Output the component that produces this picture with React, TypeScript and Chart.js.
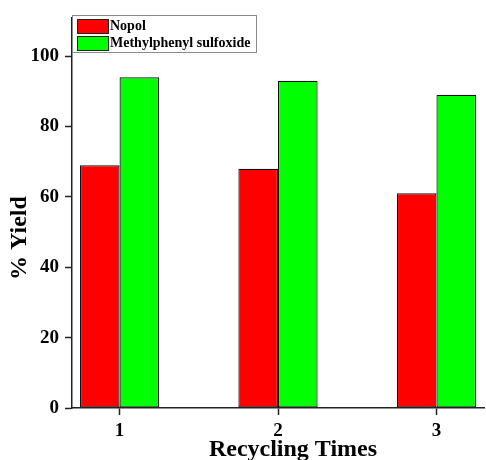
import React, { useEffect, useRef } from "react";
import { Chart, registerables } from "chart.js";

Chart.register(...registerables);

const cycles = [1, 2, 3];
const nopol = [69, 68, 61];
const sulfoxide = [94, 93, 89];
const seriesNames = ["Nopol", "Methylphenyl sulfoxide"];
const seriesColors = ["#ff0000", "#00ff00"];
const yTicks = [0, 20, 40, 60, 80, 100];
const xTitle = "Recycling Times";
const yTitle = "% Yield";

const FONT = "'Liberation Serif', 'Times New Roman', serif";

const titlesAndLegend = {
  id: "titlesAndLegend",
  afterDraw(chart: any) {
    const ctx = chart.ctx;
    const area = chart.chartArea;
    ctx.save();
    // legend box
    const lx = area.left;
    const ly = 15;
    const lw = 184;
    const lh = 37;
    ctx.fillStyle = "#ffffff";
    ctx.fillRect(lx, ly, lw, lh);
    ctx.strokeStyle = "#8a8a8a";
    ctx.lineWidth = 1;
    ctx.strokeRect(lx + 0.5, ly + 0.5, lw, lh);
    chart.data.datasets.forEach((ds: any, i: number) => {
      const y = ly + 3 + i * 17;
      ctx.fillStyle = ds.backgroundColor;
      ctx.fillRect(lx + 5, y + 1, 31, 14);
      ctx.strokeStyle = "#222";
      ctx.strokeRect(lx + 5.5, y + 1.5, 31, 14);
      ctx.fillStyle = "#000";
      ctx.font = `bold 14px ${FONT}`;
      ctx.textBaseline = "middle";
      ctx.textAlign = "left";
      ctx.fillText(ds.label, lx + 38, y + 8.5);
    });
    // axis titles
    ctx.fillStyle = "#000";
    ctx.font = `bold 24px ${FONT}`;
    ctx.textAlign = "center";
    ctx.textBaseline = "middle";
    ctx.fillText(xTitle, 293, 450);
    ctx.translate(20, 238);
    ctx.rotate(-Math.PI / 2);
    ctx.fillText(yTitle, 0, 0);
    ctx.restore();
  },
};

export default function App() {
  const ref = useRef<HTMLCanvasElement>(null);
  useEffect(() => {
    document.body.style.margin = "0";
    const chart = new Chart(ref.current as HTMLCanvasElement, {
      type: "bar",
      data: {
        datasets: [
          {
            label: seriesNames[0],
            data: cycles.map((c, i) => ({ x: c, y: nopol[i] })),
            backgroundColor: seriesColors[0],
            borderColor: "#111",
            borderWidth: 1.2,
            borderSkipped: false,
          },
          {
            label: seriesNames[1],
            data: cycles.map((c, i) => ({ x: c, y: sulfoxide[i] })),
            backgroundColor: seriesColors[1],
            borderColor: "#111",
            borderWidth: 1.2,
            borderSkipped: false,
          },
        ],
      },
      options: {
        animation: false,
        responsive: false,
        categoryPercentage: 0.5,
        barPercentage: 1,
        layout: { padding: { top: 16, right: 2, left: 0, bottom: 0 } },
        plugins: {
          legend: { display: false },
          tooltip: { enabled: false },
        },
        scales: {
          x: {
            type: "linear",
            min: 0.7,
            max: 3.3,
            offset: false,
            afterFit(scale: any) {
              scale.height = 52;
            },
            afterBuildTicks(scale: any) {
              scale.ticks = cycles.map((v) => ({ value: v }));
            },
            border: { color: "#222", width: 1.5, z: 1 },
            grid: {
              offset: false,
              drawOnChartArea: false,
              drawTicks: true,
              tickLength: 7,
              tickColor: "#222",
              tickWidth: 1.5,
              z: 1,
            },
            ticks: {
              color: "#000",
              font: { family: FONT, size: 19, weight: "bold" },
              padding: 5,
              callback: (v: any) => String(v),
            },
          },
          y: {
            min: 0,
            max: 111,
            afterFit(scale: any) {
              scale.width = 72;
            },
            afterBuildTicks(scale: any) {
              scale.ticks = yTicks.map((v) => ({ value: v }));
            },
            border: { color: "#222", width: 1.5 },
            grid: {
              drawOnChartArea: false,
              drawTicks: true,
              tickLength: 7,
              tickColor: "#222",
              tickWidth: 1.5,
            },
            ticks: {
              color: "#000",
              font: { family: FONT, size: 19, weight: "bold" },
              padding: 6,
            },
          },
        },
      } as any,
      plugins: [titlesAndLegend],
    });
    return () => chart.destroy();
  }, []);
  return <canvas ref={ref} width={486} height={460} style={{ display: "block" }} />;
}
